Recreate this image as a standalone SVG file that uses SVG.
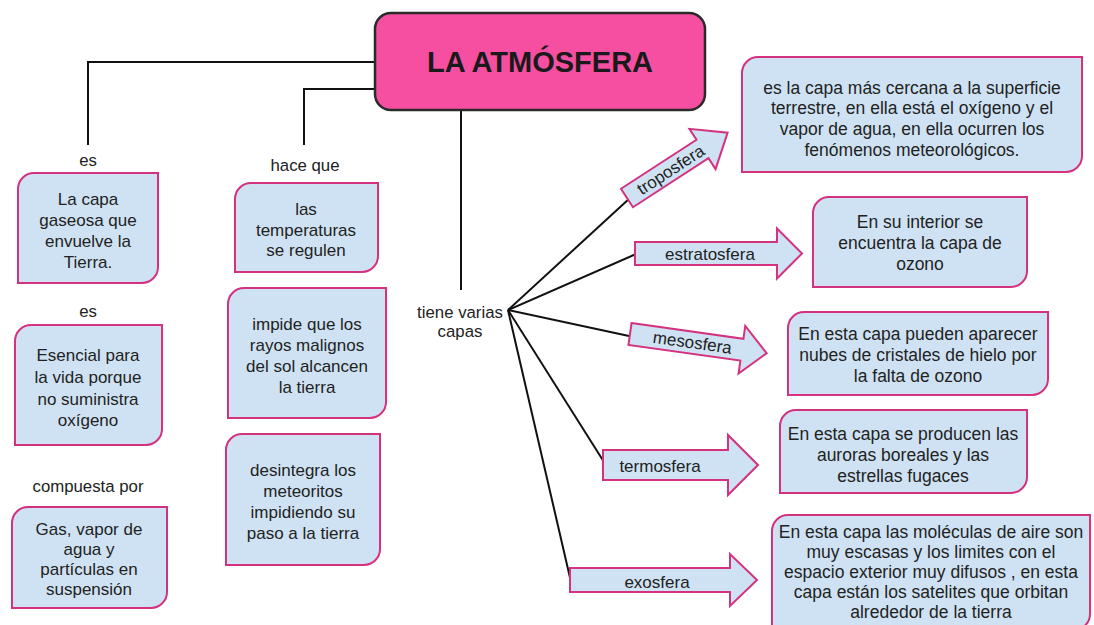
<svg xmlns="http://www.w3.org/2000/svg" width="1094" height="625" viewBox="0 0 1094 625">
<style>
.box{fill:#cfe2f3;stroke:#d4317f;stroke-width:2}
.arr{fill:#cfe2f3;stroke:#d4317f;stroke-width:2;stroke-linejoin:miter}
.t{font-family:"Liberation Sans",Arial,sans-serif;font-size:17px;fill:#222;text-anchor:middle;dominant-baseline:central}
.r{font-family:"Liberation Sans",Arial,sans-serif;font-size:17.5px;fill:#222;text-anchor:middle;dominant-baseline:central}
.a{font-family:"Liberation Sans",Arial,sans-serif;font-size:17px;fill:#222;text-anchor:middle;dominant-baseline:central}
.lbl{font-family:"Liberation Sans",Arial,sans-serif;font-size:16.8px;fill:#222;text-anchor:middle;dominant-baseline:central}
.ln{fill:none;stroke:#111;stroke-width:2}
</style>
<rect width="1094" height="625" fill="#ffffff"/>
<g id="connectors">
<polyline class="ln" points="375,62 88,62 88,145"/>
<polyline class="ln" points="375,89 304,89 304,145"/>
<line class="ln" x1="461" y1="110" x2="461" y2="290"/>
<line class="ln" x1="508" y1="310" x2="630" y2="198"/>
<line class="ln" x1="508" y1="310" x2="636" y2="254"/>
<line class="ln" x1="508" y1="310" x2="629" y2="336"/>
<line class="ln" x1="508" y1="310" x2="604" y2="462"/>
<line class="ln" x1="508" y1="310" x2="571" y2="582"/>
</g>
<g id="title">
<rect x="375" y="13" width="330" height="97" rx="16" fill="#f64fa2" stroke="#2a2a2a" stroke-width="2.5"/>
<text x="540" y="62" font-family="'Liberation Sans',Arial,sans-serif" font-size="29" font-weight="bold" fill="#1a1a1a" text-anchor="middle" dominant-baseline="central">LA ATMÓSFERA</text>
</g>
<g id="label-es1"><text class="lbl" x="88" y="160">es</text></g>
<g id="label-hace"><text class="lbl" x="305" y="165">hace que</text></g>
<g id="label-es2"><text class="lbl" x="88" y="311">es</text></g>
<g id="label-compuesta"><text class="lbl" x="88" y="486">compuesta por</text></g>
<g id="label-capas"><text class="lbl" x="460" y="312">tiene varias</text><text class="lbl" x="460" y="331">capas</text></g>
<g id="box-l1">
<path class="box" d="M34,173 H158 V267 A16,16 0 0 1 142,283 H18 V189 A16,16 0 0 1 34,173 Z"/>
<text class="t" x="88" y="199">La capa</text><text class="t" x="88" y="220">gaseosa que</text><text class="t" x="88" y="241">envuelve la</text><text class="t" x="88" y="262">Tierra.</text>
</g>
<g id="box-l2">
<path class="box" d="M31,325 H162 V429 A16,16 0 0 1 146,445 H15 V341 A16,16 0 0 1 31,325 Z"/>
<text class="t" x="88" y="355">Esencial para</text><text class="t" x="88" y="377">la vida porque</text><text class="t" x="88" y="399">no suministra</text><text class="t" x="88" y="420">oxígeno</text>
</g>
<g id="box-l3">
<path class="box" d="M28,507 H167 V592 A16,16 0 0 1 151,608 H12 V523 A16,16 0 0 1 28,507 Z"/>
<text class="t" x="89" y="529">Gas, vapor de</text><text class="t" x="89" y="549">agua y</text><text class="t" x="89" y="569">partículas en</text><text class="t" x="89" y="589">suspensión</text>
</g>
<g id="box-m1">
<path class="box" d="M251,183 H378 V256 A16,16 0 0 1 362,272 H235 V199 A16,16 0 0 1 251,183 Z"/>
<text class="t" x="306" y="209">las</text><text class="t" x="306" y="230">temperaturas</text><text class="t" x="306" y="250">se regulen</text>
</g>
<g id="box-m2">
<path class="box" d="M244,288 H386 V402 A16,16 0 0 1 370,418 H228 V304 A16,16 0 0 1 244,288 Z"/>
<text class="t" x="307" y="324">impide que los</text><text class="t" x="307" y="345">rayos malignos</text><text class="t" x="307" y="366">del sol alcancen</text><text class="t" x="307" y="387">la tierra</text>
</g>
<g id="box-m3">
<path class="box" d="M242,434 H380 V549 A16,16 0 0 1 364,565 H226 V450 A16,16 0 0 1 242,434 Z"/>
<text class="t" x="303" y="470">desintegra los</text><text class="t" x="303" y="491">meteoritos</text><text class="t" x="303" y="512">impidiendo su</text><text class="t" x="303" y="533">paso a la tierra</text>
</g>
<g id="arrow-troposfera" transform="translate(627,198) rotate(-33)">
<path class="arr" d="M0,-11 H90 V-24 L120,0 L90,24 V11 H0 Z"/>
<text class="a" x="52" y="0.5">troposfera</text>
</g>
<g id="arrow-estratosfera" transform="translate(635,253.5)">
<path class="arr" d="M0,-11.5 H142 V-25 L167,0 L142,25 V11.5 H0 Z"/>
<text class="a" x="75" y="1">estratosfera</text>
</g>
<g id="arrow-mesosfera" transform="translate(630,334) rotate(8)">
<path class="arr" d="M0,-11 H113 V-24 L138,0 L113,24 V11 H0 Z"/>
<text class="a" x="63" y="0">mesosfera</text>
</g>
<g id="arrow-termosfera" transform="translate(603,465)">
<path class="arr" d="M0,-15 H125 V-30 L155,0 L125,30 V15 H0 Z"/>
<text class="a" x="57" y="1">termosfera</text>
</g>
<g id="arrow-exosfera" transform="translate(570,580)">
<path class="arr" d="M0,-12 H160 V-26 L187,0 L160,26 V12 H0 Z"/>
<text class="a" x="87" y="2">exosfera</text>
</g>
<g id="box-r1">
<path class="box" d="M758,57 H1082 V156 A16,16 0 0 1 1066,172 H742 V73 A16,16 0 0 1 758,57 Z"/>
<text class="r" x="912" y="88">es la capa más cercana a la superficie</text><text class="r" x="912" y="108">terrestre, en ella está el oxígeno y el</text><text class="r" x="912" y="129">vapor de agua, en ella ocurren los</text><text class="r" x="912" y="150">fenómenos meteorológicos.</text>
</g>
<g id="box-r2">
<path class="box" d="M829,197 H1027 V271 A16,16 0 0 1 1011,287 H813 V213 A16,16 0 0 1 829,197 Z"/>
<text class="r" x="920" y="222">En su interior se</text><text class="r" x="920" y="243">encuentra la capa de</text><text class="r" x="920" y="264">ozono</text>
</g>
<g id="box-r3">
<path class="box" d="M804,312 H1048 V379 A16,16 0 0 1 1032,395 H788 V328 A16,16 0 0 1 804,312 Z"/>
<text class="r" x="918" y="334">En esta capa pueden aparecer</text><text class="r" x="918" y="355">nubes de cristales de hielo por</text><text class="r" x="918" y="376">la falta de ozono</text>
</g>
<g id="box-r4">
<path class="box" d="M796,410 H1027 V477 A16,16 0 0 1 1011,493 H780 V426 A16,16 0 0 1 796,410 Z"/>
<text class="r" x="903" y="434">En esta capa se producen las</text><text class="r" x="903" y="455">auroras boreales y las</text><text class="r" x="903" y="476">estrellas fugaces</text>
</g>
<g id="box-r5">
<path class="box" d="M788,515 H1090 V614 A16,16 0 0 1 1074,630 H772 V531 A16,16 0 0 1 788,515 Z"/>
<text class="r" x="931" y="532">En esta capa las moléculas de aire son</text><text class="r" x="931" y="552">muy escasas y los limites con el</text><text class="r" x="931" y="572">espacio exterior muy difusos , en esta</text><text class="r" x="931" y="592">capa están los satelites que orbitan</text><text class="r" x="931" y="612">alrededor de la tierra</text>
</g>
</svg>
